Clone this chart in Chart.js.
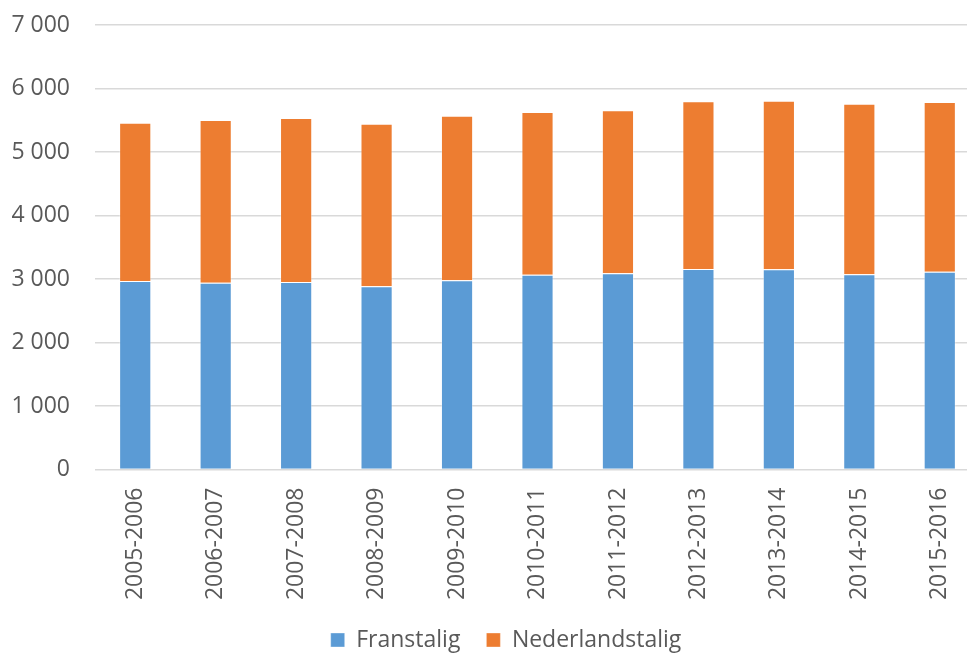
<!DOCTYPE html>
<html>
<head>
<meta charset="utf-8">
<script src="https://cdn.jsdelivr.net/npm/chart.js@4/dist/chart.umd.min.js"></script>
<style>
html, body { margin: 0; padding: 0; overflow: hidden; background: #fff; }
#wrap { width: 1012px; height: 654px; }
</style>
</head>
<body>
<div id="wrap"><canvas id="c" width="1012" height="654"></canvas></div>
<script>
const categories = ["2005-2006","2006-2007","2007-2008","2008-2009","2009-2010","2010-2011","2011-2012","2012-2013","2013-2014","2014-2015","2015-2016"];
const franstalig = [2969, 2942, 2953, 2885, 2979, 3068, 3090, 3157, 3152, 3074, 3115];
const nederlandstalig = [2492, 2562, 2582, 2561, 2593, 2562, 2567, 2641, 2656, 2687, 2672];
const seriesNames = ["Franstalig", "Nederlandstalig"];

const FONT = "'Open Sans', 'Liberation Sans', sans-serif";
const TEXT = "#595959";

new Chart(document.getElementById('c'), {
  type: 'bar',
  data: {
    labels: categories,
    datasets: [
      { label: seriesNames[0], data: franstalig, backgroundColor: '#5B9BD5', borderColor: 'rgba(255,255,255,0.35)', borderWidth: 1, barPercentage: 0.4, categoryPercentage: 1 },
      { label: seriesNames[1], data: nederlandstalig, backgroundColor: '#ED7D31', borderColor: 'rgba(255,255,255,0.35)', borderWidth: 1, barPercentage: 0.4, categoryPercentage: 1 }
    ]
  },
  options: {
    responsive: false,
    animation: false,
    layout: { padding: { top: 25, right: 0, bottom: -7.5, left: 0 } },
    plugins: {
      legend: {
        position: 'bottom',
        labels: { font: { family: FONT, size: 23 }, color: TEXT, boxWidth: 14, boxHeight: 14, padding: 26 }
      },
      tooltip: { enabled: false }
    },
    scales: {
      x: {
        stacked: true,
        grid: { display: false, drawTicks: false },
        border: { display: false },
        ticks: { font: { family: FONT, size: 23 }, color: TEXT, minRotation: 90, maxRotation: 90, padding: 18, autoSkip: false },
        afterFit: (s) => { s.height = 133; }
      },
      y: {
        stacked: true,
        min: 0, max: 7000,
        grid: { color: '#D9D9D9', lineWidth: 1.5, drawTicks: true, tickLength: 22, tickColor: 'rgba(0,0,0,0)' },
        border: { display: false },
        ticks: {
          stepSize: 1000,
          padding: 3,
          font: { family: FONT, size: 23 }, color: TEXT,
          callback: (v) => v.toString().replace(/\B(?=(\d{3})+(?!\d))/g, ' ')
        },
        afterFit: (s) => { s.width = 95; }
      },
      yRight: {
        position: 'right',
        display: true,
        grid: { display: false },
        border: { display: false },
        ticks: { display: false },
        afterFit: (s) => { s.width = 32; }
      }
    }
  }
});
</script>
</body>
</html>
